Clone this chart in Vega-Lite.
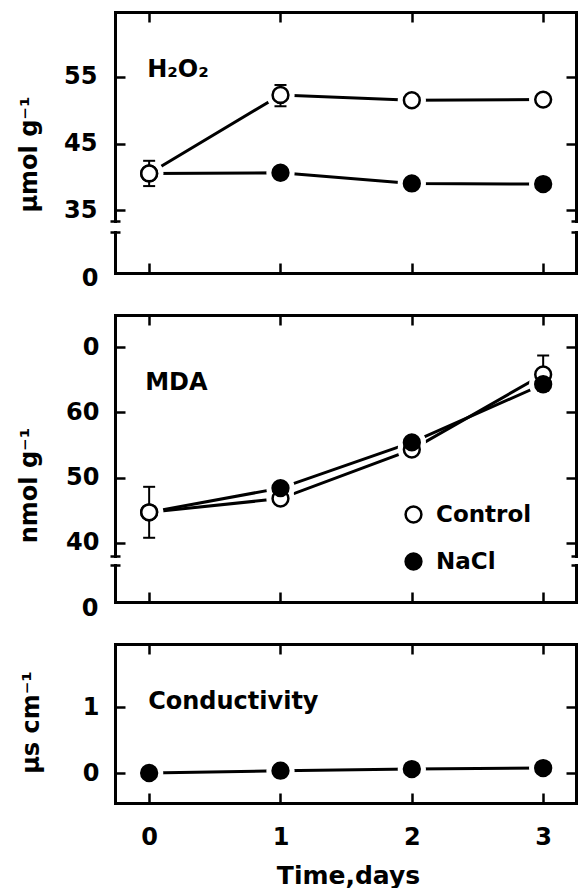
{
  "$schema": "https://vega.github.io/schema/vega-lite/v6.json",
  "autosize": {"type": "none"},
  "padding": {"left": 115, "top": 12, "right": 463, "bottom": 876},
  "background": "white",
  "bounds": "flush",
  "spacing": 42,
  "config": {
    "font": "DejaVu Sans",
    "view": {"stroke": null},
    "axis": {
      "grid": false,
      "domainColor": "black",
      "tickColor": "black",
      "labelColor": "black",
      "titleColor": "black",
      "domainWidth": 3,
      "tickWidth": 2.5,
      "domainCap": "square",
      "labelFont": "DejaVu Sans",
      "labelFontSize": 24,
      "labelFontWeight": "bold",
      "titleFont": "DejaVu Sans",
      "titleFontSize": 24,
      "titleFontWeight": "bold",
      "labelFlush": false,
      "labelOverlap": false
    }
  },
  "datasets": {
    "h2o2": [
      {"treat": "Control", "day": 1, "val": 52.3, "lo": 50.6, "hi": 53.8},
      {"treat": "Control", "day": 2, "val": 51.5},
      {"treat": "Control", "day": 3, "val": 51.6},
      {"treat": "NaCl", "day": 0, "val": 40.5},
      {"treat": "NaCl", "day": 1, "val": 40.6},
      {"treat": "NaCl", "day": 2, "val": 39.0},
      {"treat": "NaCl", "day": 3, "val": 38.9},
      {"treat": "Control", "day": 0, "val": 40.5, "lo": 38.6, "hi": 42.4}
    ],
    "mda": [
      {"treat": "Control", "day": 1, "val": 46.8},
      {"treat": "Control", "day": 2, "val": 54.3},
      {"treat": "Control", "day": 3, "val": 65.8, "lo": 63.3, "hi": 68.7},
      {"treat": "NaCl", "day": 0, "val": 44.7},
      {"treat": "NaCl", "day": 1, "val": 48.4},
      {"treat": "NaCl", "day": 2, "val": 55.4},
      {"treat": "NaCl", "day": 3, "val": 64.3},
      {"treat": "Control", "day": 0, "val": 44.7, "lo": 40.8, "hi": 48.6}
    ],
    "cond": [
      {"treat": "NaCl", "day": 0, "val": 0.0},
      {"treat": "NaCl", "day": 1, "val": 0.035},
      {"treat": "NaCl", "day": 2, "val": 0.06},
      {"treat": "NaCl", "day": 3, "val": 0.075}
    ],
    "labels": [
      {"panel": "h2o2", "label": "H₂O₂"},
      {"panel": "mda", "label": "MDA"},
      {"panel": "cond", "label": "Conductivity"}
    ]
  },
  "resolve": {"scale": {"fill": "independent"}, "legend": {"fill": "independent"}},
  "vconcat": [
    {
      "width": 461,
      "height": 261,
      "data": {"name": "h2o2"},
      "resolve": {"scale": {"y": "independent"}, "axis": {"x": "independent", "y": "independent"}},
      "layer": [
        {
          "mark": {"type": "line", "color": "black", "strokeWidth": 3},
          "encoding": {
            "x": {"field": "day", "type": "quantitative", "scale": {"domain": [-0.26, 3.25], "nice": false, "zero": false}, "axis": {"orient": "bottom", "values": [0, 1, 2, 3], "labels": false, "title": null, "tickSize": -10}},
            "y": {"field": "val", "type": "quantitative", "scale": {"domain": [33.35, 64.77], "range": [209, 0], "nice": false, "zero": false}, "axis": {"orient": "left", "values": [35, 45, 55], "tickSize": -10, "labels": false, "title": "μmol  g⁻¹", "titleX": -86, "titleY": 142, "titleAlign": "center", "titleBaseline": "middle", "titleAngle": 270}},
            "detail": {"field": "treat"}
          }
        },
        {
          "mark": {"type": "point", "shape": "circle", "filled": true, "color": "white", "opacity": 1, "size": 800},
          "encoding": {
            "x": {"field": "day", "type": "quantitative", "scale": {"domain": [-0.26, 3.25], "nice": false, "zero": false}, "axis": {"orient": "top", "values": [0, 1, 2, 3], "labels": false, "title": null, "tickSize": -10}},
            "y": {"field": "val", "type": "quantitative", "scale": {"domain": [33.35, 64.77], "range": [209, 0], "nice": false, "zero": false}, "axis": {"orient": "right", "values": [35, 45, 55], "tickSize": -10, "labels": false, "title": null}}
          }
        },
        {
          "mark": {"type": "rule", "color": "black", "strokeWidth": 2},
          "encoding": {
            "x": {"field": "day", "type": "quantitative", "scale": {"domain": [-0.26, 3.25], "nice": false, "zero": false}, "axis": null},
            "y": {"field": "lo", "type": "quantitative", "scale": {"domain": [33.35, 64.77], "range": [209, 0], "nice": false, "zero": false}, "axis": {"orient": "left", "values": [33.35], "domain": false, "labels": false, "title": null, "tickSize": -10, "offset": 5}},
            "y2": {"field": "hi"}
          }
        },
        {
          "mark": {"type": "tick", "orient": "horizontal", "size": 12, "thickness": 2, "color": "black", "opacity": 1},
          "encoding": {
            "x": {"field": "day", "type": "quantitative", "scale": {"domain": [-0.26, 3.25], "nice": false, "zero": false}, "axis": null},
            "y": {"field": "lo", "type": "quantitative", "scale": {"domain": [33.35, 64.77], "range": [209, 0], "nice": false, "zero": false}, "axis": {"orient": "right", "values": [33.35], "domain": false, "labels": false, "title": null, "tickSize": -10, "offset": 5}}
          }
        },
        {
          "mark": {"type": "tick", "orient": "horizontal", "size": 12, "thickness": 2, "color": "black", "opacity": 1},
          "encoding": {
            "x": {"field": "day", "type": "quantitative", "scale": {"domain": [-0.26, 3.25], "nice": false, "zero": false}, "axis": null},
            "y": {"field": "hi", "type": "quantitative", "scale": {"domain": [33.35, 64.77], "range": [209, 0], "nice": false, "zero": false}, "axis": {"orient": "left", "values": [35, 45, 55], "ticks": false, "domain": false, "labelPadding": 18, "title": null}}
          }
        },
        {
          "mark": {"type": "point", "shape": "circle", "filled": true, "size": 250, "stroke": "black", "strokeWidth": 2.5, "opacity": 1},
          "encoding": {
            "x": {"field": "day", "type": "quantitative", "scale": {"domain": [-0.26, 3.25], "nice": false, "zero": false}, "axis": null},
            "y": {"field": "val", "type": "quantitative", "scale": {"domain": [33.35, 64.77], "range": [209, 0], "nice": false, "zero": false}, "axis": null},
            "fill": {"field": "treat", "type": "nominal", "scale": {"domain": ["Control", "NaCl"], "range": ["white", "black"]}, "legend": null}
          }
        },
        {
          "data": {"name": "labels"},
          "transform": [{"filter": "datum.panel == 'h2o2'"}],
          "mark": {"type": "text", "align": "left", "baseline": "alphabetic", "fontSize": 24, "fontWeight": "bold", "font": "DejaVu Sans", "color": "black", "dx": -2},
          "encoding": {
            "x": {"datum": 0, "type": "quantitative", "scale": {"domain": [-0.26, 3.25], "nice": false, "zero": false}, "axis": null},
            "y": {"datum": 55, "type": "quantitative", "scale": {"domain": [33.35, 64.77], "range": [209, 0], "nice": false, "zero": false}, "axis": null},
            "text": {"field": "label"}
          }
        },
        {
          "mark": {"type": "point", "opacity": 0},
          "encoding": {
            "y": {"datum": 0, "type": "quantitative", "scale": {"domain": [0, 1], "range": [261, 220], "nice": false, "zero": false}, "axis": {"orient": "left", "values": [0], "ticks": false, "labelPadding": 17, "labelOffset": 5, "title": null}}
          }
        },
        {
          "mark": {"type": "point", "opacity": 0},
          "encoding": {
            "y": {"datum": 0, "type": "quantitative", "scale": {"domain": [0, 1], "range": [261, 220], "nice": false, "zero": false}, "axis": {"orient": "right", "values": [0], "ticks": false, "labels": false, "title": null}}
          }
        },
        {
          "mark": {"type": "point", "opacity": 0},
          "encoding": {
            "y": {"datum": 0, "type": "quantitative", "scale": {"domain": [0, 1], "range": [261, 220], "nice": false, "zero": false}, "axis": {"orient": "left", "values": [1], "domain": false, "labels": false, "title": null, "tickSize": -10, "offset": 5}}
          }
        },
        {
          "mark": {"type": "point", "opacity": 0},
          "encoding": {
            "y": {"datum": 0, "type": "quantitative", "scale": {"domain": [0, 1], "range": [261, 220], "nice": false, "zero": false}, "axis": {"orient": "right", "values": [1], "domain": false, "labels": false, "title": null, "tickSize": -10, "offset": 5}}
          }
        }
      ]
    },
    {
      "width": 461,
      "height": 287,
      "data": {"name": "mda"},
      "resolve": {"scale": {"y": "independent"}, "axis": {"x": "independent", "y": "independent"}},
      "layer": [
        {
          "mark": {"type": "line", "color": "black", "strokeWidth": 3},
          "encoding": {
            "x": {"field": "day", "type": "quantitative", "scale": {"domain": [-0.26, 3.25], "nice": false, "zero": false}, "axis": {"orient": "bottom", "values": [0, 1, 2, 3], "labels": false, "title": null, "tickSize": -10}},
            "y": {"field": "val", "type": "quantitative", "scale": {"domain": [38.01, 74.9], "range": [241, 0], "nice": false, "zero": false}, "axis": {"orient": "left", "values": [40, 50, 60, 70], "tickSize": -10, "labels": false, "title": "nmol  g⁻¹", "titleX": -86, "titleY": 170, "titleAlign": "center", "titleBaseline": "middle", "titleAngle": 270}},
            "detail": {"field": "treat"}
          }
        },
        {
          "mark": {"type": "point", "shape": "circle", "filled": true, "color": "white", "opacity": 1, "size": 800},
          "encoding": {
            "x": {"field": "day", "type": "quantitative", "scale": {"domain": [-0.26, 3.25], "nice": false, "zero": false}, "axis": {"orient": "top", "values": [0, 1, 2, 3], "labels": false, "title": null, "tickSize": -10}},
            "y": {"field": "val", "type": "quantitative", "scale": {"domain": [38.01, 74.9], "range": [241, 0], "nice": false, "zero": false}, "axis": {"orient": "right", "values": [40, 50, 60, 70], "tickSize": -10, "labels": false, "title": null}}
          }
        },
        {
          "mark": {"type": "rule", "color": "black", "strokeWidth": 2},
          "encoding": {
            "x": {"field": "day", "type": "quantitative", "scale": {"domain": [-0.26, 3.25], "nice": false, "zero": false}, "axis": null},
            "y": {"field": "lo", "type": "quantitative", "scale": {"domain": [38.01, 74.9], "range": [241, 0], "nice": false, "zero": false}, "axis": {"orient": "left", "values": [38.01], "domain": false, "labels": false, "title": null, "tickSize": -10, "offset": 5}},
            "y2": {"field": "hi"}
          }
        },
        {
          "mark": {"type": "tick", "orient": "horizontal", "size": 12, "thickness": 2, "color": "black", "opacity": 1},
          "encoding": {
            "x": {"field": "day", "type": "quantitative", "scale": {"domain": [-0.26, 3.25], "nice": false, "zero": false}, "axis": null},
            "y": {"field": "lo", "type": "quantitative", "scale": {"domain": [38.01, 74.9], "range": [241, 0], "nice": false, "zero": false}, "axis": {"orient": "right", "values": [38.01], "domain": false, "labels": false, "title": null, "tickSize": -10, "offset": 5}}
          }
        },
        {
          "mark": {"type": "tick", "orient": "horizontal", "size": 12, "thickness": 2, "color": "black", "opacity": 1},
          "encoding": {
            "x": {"field": "day", "type": "quantitative", "scale": {"domain": [-0.26, 3.25], "nice": false, "zero": false}, "axis": null},
            "y": {"field": "hi", "type": "quantitative", "scale": {"domain": [38.01, 74.9], "range": [241, 0], "nice": false, "zero": false}, "axis": {"orient": "left", "values": [40, 50, 60, 70], "labelExpr": "datum.value == 70 ? '0' : datum.label", "ticks": false, "domain": false, "labelPadding": 16, "title": null}}
          }
        },
        {
          "mark": {"type": "point", "shape": "circle", "filled": true, "size": 250, "stroke": "black", "strokeWidth": 2.5, "opacity": 1},
          "encoding": {
            "x": {"field": "day", "type": "quantitative", "scale": {"domain": [-0.26, 3.25], "nice": false, "zero": false}, "axis": null},
            "y": {"field": "val", "type": "quantitative", "scale": {"domain": [38.01, 74.9], "range": [241, 0], "nice": false, "zero": false}, "axis": null},
            "fill": {"field": "treat", "type": "nominal", "scale": {"domain": ["Control", "NaCl"], "range": ["white", "black"]},
              "legend": {"orient": "none", "legendX": 287, "legendY": 188, "title": null, "padding": 0, "labelFont": "DejaVu Sans", "labelFontSize": 23, "labelFontWeight": "bold", "labelColor": "black", "symbolType": "circle", "symbolSize": 250, "symbolStrokeColor": "black", "symbolStrokeWidth": 2.5, "labelOffset": 11, "rowPadding": 20}}
          }
        },
        {
          "data": {"name": "labels"},
          "transform": [{"filter": "datum.panel == 'mda'"}],
          "mark": {"type": "text", "align": "left", "baseline": "alphabetic", "fontSize": 24, "fontWeight": "bold", "font": "DejaVu Sans", "color": "black", "dx": -4},
          "encoding": {
            "x": {"datum": 0, "type": "quantitative", "scale": {"domain": [-0.26, 3.25], "nice": false, "zero": false}, "axis": null},
            "y": {"datum": 63.4, "type": "quantitative", "scale": {"domain": [38.01, 74.9], "range": [241, 0], "nice": false, "zero": false}, "axis": null},
            "text": {"field": "label"}
          }
        },
        {
          "mark": {"type": "point", "opacity": 0},
          "encoding": {
            "y": {"datum": 0, "type": "quantitative", "scale": {"domain": [0, 1], "range": [287, 250], "nice": false, "zero": false}, "axis": {"orient": "left", "values": [0], "ticks": false, "labelPadding": 17, "labelOffset": 6, "title": null}}
          }
        },
        {
          "mark": {"type": "point", "opacity": 0},
          "encoding": {
            "y": {"datum": 0, "type": "quantitative", "scale": {"domain": [0, 1], "range": [287, 250], "nice": false, "zero": false}, "axis": {"orient": "right", "values": [0], "ticks": false, "labels": false, "title": null}}
          }
        },
        {
          "mark": {"type": "point", "opacity": 0},
          "encoding": {
            "y": {"datum": 0, "type": "quantitative", "scale": {"domain": [0, 1], "range": [287, 250], "nice": false, "zero": false}, "axis": {"orient": "left", "values": [1], "domain": false, "labels": false, "title": null, "tickSize": -10, "offset": 5}}
          }
        },
        {
          "mark": {"type": "point", "opacity": 0},
          "encoding": {
            "y": {"datum": 0, "type": "quantitative", "scale": {"domain": [0, 1], "range": [287, 250], "nice": false, "zero": false}, "axis": {"orient": "right", "values": [1], "domain": false, "labels": false, "title": null, "tickSize": -10, "offset": 5}}
          }
        }
      ]
    },
    {
      "width": 461,
      "height": 159,
      "data": {"name": "cond"},
      "resolve": {"scale": {"y": "independent"}, "axis": {"x": "independent", "y": "independent"}},
      "layer": [
        {
          "mark": {"type": "line", "color": "black", "strokeWidth": 3},
          "encoding": {
            "x": {"field": "day", "type": "quantitative", "scale": {"domain": [-0.26, 3.25], "nice": false, "zero": false}, "axis": {"orient": "bottom", "values": [0, 1, 2, 3], "tickSize": -10, "labelPadding": 32, "title": "Time,days", "titleFontSize": 25, "titleX": 233, "titleY": 80, "titleAlign": "center", "titleBaseline": "alphabetic"}},
            "y": {"field": "val", "type": "quantitative", "scale": {"domain": [-0.4545, 1.955], "range": [159, 0], "nice": false, "zero": false}, "axis": {"orient": "left", "values": [0, 1], "tickSize": -10, "labels": false, "title": "μs cm⁻¹", "titleX": -84, "titleY": 78, "titleAlign": "center", "titleBaseline": "middle", "titleAngle": 270}}
          }
        },
        {
          "mark": {"type": "point", "shape": "circle", "filled": true, "color": "white", "opacity": 1, "size": 800},
          "encoding": {
            "x": {"field": "day", "type": "quantitative", "scale": {"domain": [-0.26, 3.25], "nice": false, "zero": false}, "axis": {"orient": "top", "values": [0, 1, 2, 3], "labels": false, "title": null, "tickSize": -10}},
            "y": {"field": "val", "type": "quantitative", "scale": {"domain": [-0.4545, 1.955], "range": [159, 0], "nice": false, "zero": false}, "axis": {"orient": "right", "values": [0, 1], "tickSize": -10, "labels": false, "title": null}}
          }
        },
        {
          "mark": {"type": "point", "shape": "circle", "filled": true, "size": 250, "stroke": "black", "strokeWidth": 2.5, "opacity": 1},
          "encoding": {
            "x": {"field": "day", "type": "quantitative", "scale": {"domain": [-0.26, 3.25], "nice": false, "zero": false}, "axis": null},
            "y": {"field": "val", "type": "quantitative", "scale": {"domain": [-0.4545, 1.955], "range": [159, 0], "nice": false, "zero": false}, "axis": {"orient": "left", "values": [0, 1], "ticks": false, "domain": false, "labelPadding": 16, "title": null}},
            "fill": {"field": "treat", "type": "nominal", "scale": {"domain": ["Control", "NaCl"], "range": ["white", "black"]}, "legend": null}
          }
        },
        {
          "data": {"name": "labels"},
          "transform": [{"filter": "datum.panel == 'cond'"}],
          "mark": {"type": "text", "align": "left", "baseline": "alphabetic", "fontSize": 24, "fontWeight": "bold", "font": "DejaVu Sans", "color": "black", "dx": -1},
          "encoding": {
            "x": {"datum": 0, "type": "quantitative", "scale": {"domain": [-0.26, 3.25], "nice": false, "zero": false}, "axis": null},
            "y": {"datum": 0.97, "type": "quantitative", "scale": {"domain": [-0.4545, 1.955], "range": [159, 0], "nice": false, "zero": false}, "axis": null},
            "text": {"field": "label"}
          }
        }
      ]
    }
  ]
}
